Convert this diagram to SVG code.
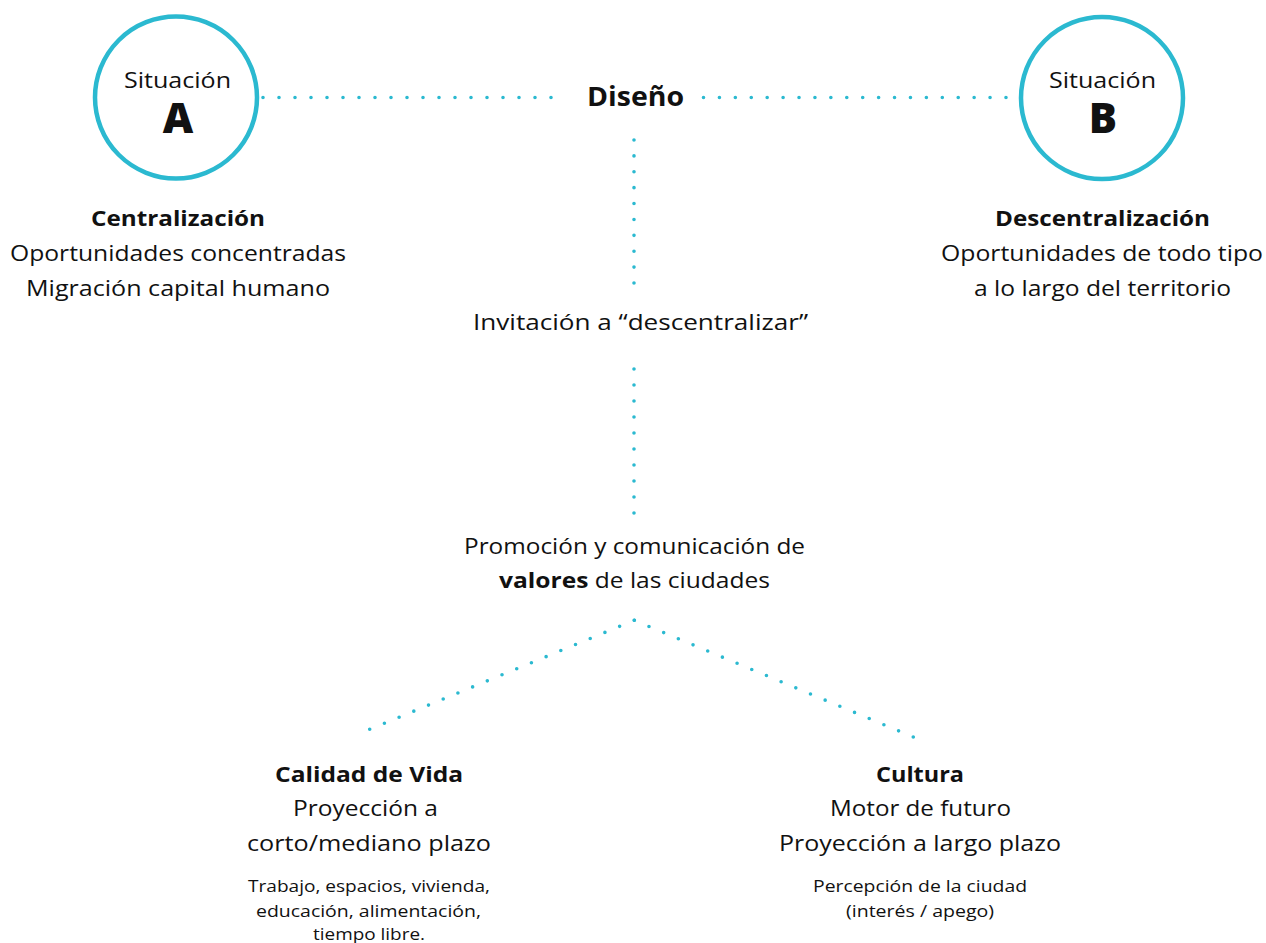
<svg xmlns="http://www.w3.org/2000/svg" width="1266" height="943" viewBox="0 0 1266 943">
<style>
.t{font-family:"Open Sans",Lato,"Liberation Sans",sans-serif;fill:#111;text-anchor:middle;font-size:22px}
.b{font-weight:700}
.s{font-size:17px}
.big{font-size:42px;font-weight:800}
.ring{fill:none;stroke:#2bb9d0;stroke-width:4.5}
.dot{fill:none;stroke:#2bb9d0;stroke-width:3.6;stroke-linecap:round}
</style>
<rect width="1266" height="943" fill="#fff"/>
<g id="connectors">
<line class="dot" x1="263" y1="97.5" x2="552" y2="97.5" stroke-dasharray="0 16"/>
<line class="dot" x1="703.5" y1="97.5" x2="1007" y2="97.5" stroke-dasharray="0 15.92"/>
<line class="dot" x1="634" y1="140" x2="634" y2="284" stroke-dasharray="0 15.89"/>
<line class="dot" x1="634" y1="369" x2="634" y2="514" stroke-dasharray="0 16"/>
<line class="dot" x1="369.7" y1="729.3" x2="634.8" y2="620.1" stroke-dasharray="0 15.9"/>
<line class="dot" x1="634.3" y1="620.3" x2="914" y2="737.3" stroke-dasharray="0 15.915"/>
</g>
<g id="situacion-a">
<circle class="ring" cx="176" cy="97.5" r="81"/>
<text class="t" x="177.5" y="88" textLength="107" lengthAdjust="spacingAndGlyphs">Situación</text>
<text class="t big" x="178" y="133">A</text>
</g>
<g id="situacion-b">
<circle class="ring" cx="1102" cy="98" r="81"/>
<text class="t" x="1102.5" y="88" textLength="107" lengthAdjust="spacingAndGlyphs">Situación</text>
<text class="t big" x="1103" y="133">B</text>
</g>
<g id="diseno">
<text class="t b" x="635.5" y="106" style="font-size:26px" textLength="97" lengthAdjust="spacingAndGlyphs">Diseño</text>
</g>
<g id="centralizacion">
<text class="t b" x="178" y="226" textLength="174" lengthAdjust="spacingAndGlyphs">Centralización</text>
<text class="t" x="178" y="261" textLength="336" lengthAdjust="spacingAndGlyphs">Oportunidades concentradas</text>
<text class="t" x="178" y="296" textLength="304" lengthAdjust="spacingAndGlyphs">Migración capital humano</text>
</g>
<g id="descentralizacion">
<text class="t b" x="1102.5" y="226" textLength="215" lengthAdjust="spacingAndGlyphs">Descentralización</text>
<text class="t" x="1102" y="261" textLength="322" lengthAdjust="spacingAndGlyphs">Oportunidades de todo tipo</text>
<text class="t" x="1102.5" y="296" textLength="257" lengthAdjust="spacingAndGlyphs">a lo largo del territorio</text>
</g>
<g id="invitacion">
<text class="t" x="640.5" y="330" textLength="335" lengthAdjust="spacingAndGlyphs">Invitación a “descentralizar”</text>
</g>
<g id="promocion">
<text class="t" x="634.5" y="554" textLength="341" lengthAdjust="spacingAndGlyphs">Promoción y comunicación de</text>
<text class="t" x="634.5" y="588" textLength="271" lengthAdjust="spacingAndGlyphs"><tspan class="b">valores</tspan> de las ciudades</text>
</g>
<g id="calidad-de-vida">
<text class="t b" x="369" y="782" textLength="188" lengthAdjust="spacingAndGlyphs">Calidad de Vida</text>
<text class="t" x="365.5" y="816" textLength="145" lengthAdjust="spacingAndGlyphs">Proyección a</text>
<text class="t" x="369" y="851" textLength="244" lengthAdjust="spacingAndGlyphs">corto/mediano plazo</text>
<text class="t s" x="369" y="892" textLength="242" lengthAdjust="spacingAndGlyphs">Trabajo, espacios, vivienda,</text>
<text class="t s" x="368.5" y="917" textLength="225" lengthAdjust="spacingAndGlyphs">educación, alimentación,</text>
<text class="t s" x="369" y="940" textLength="112" lengthAdjust="spacingAndGlyphs">tiempo libre.</text>
</g>
<g id="cultura">
<text class="t b" x="920" y="782" textLength="88" lengthAdjust="spacingAndGlyphs">Cultura</text>
<text class="t" x="920.5" y="816" textLength="181" lengthAdjust="spacingAndGlyphs">Motor de futuro</text>
<text class="t" x="920" y="851" textLength="282" lengthAdjust="spacingAndGlyphs">Proyección a largo plazo</text>
<text class="t s" x="920" y="892" textLength="214" lengthAdjust="spacingAndGlyphs">Percepción de la ciudad</text>
<text class="t s" x="920" y="917" textLength="148" lengthAdjust="spacingAndGlyphs">(interés / apego)</text>
</g>
</svg>
